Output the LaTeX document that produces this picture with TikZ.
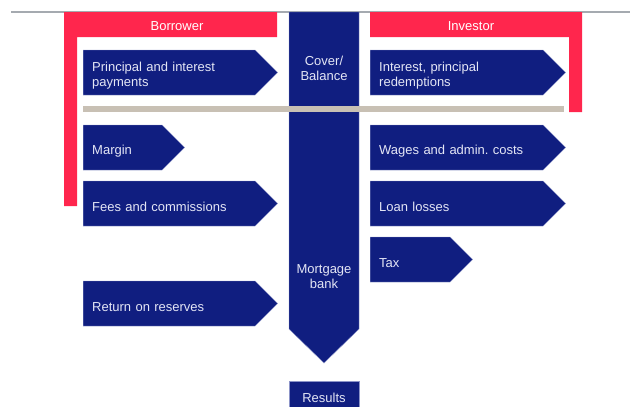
\documentclass[tikz,border=0pt]{standalone}
\usepackage{fontspec}
\setmainfont{Liberation Sans}
\usetikzlibrary{shapes.symbols}
\definecolor{bankblue}{RGB}{16,30,128}
\definecolor{bankedge}{RGB}{140,148,200}
\definecolor{partyred}{RGB}{255,38,77}
\definecolor{splitbeige}{RGB}{200,192,180}
\definecolor{rulegray}{RGB}{165,170,176}
\definecolor{flowtext}{RGB}{228,230,245}
\tikzset{
    flow/.style={signal, signal to=east, signal pointer angle=90, fill=bankblue,
        draw=bankedge, line width=0.4pt, text=flowtext, align=left,
        font=\fontsize{13}{15}\selectfont, minimum height=45pt,
        inner xsep=9pt, inner ysep=0pt, anchor=west,
        execute at begin node={\rule{0pt}{16pt}}},
    coltext/.style={text=flowtext, align=center, font=\fontsize{13}{15}\selectfont},
    party/.style={text=white, font=\fontsize{13}{15}\selectfont}
}
\begin{document}
\begin{tikzpicture}[x=1pt, y=-1pt]
    \useasboundingbox (0,0) rectangle (630,407);

    % Rule and parties
    \draw[rulegray, line width=1.3pt] (11,12) -- (630,12);
    \fill[partyred] (64,12) -- (277,12) -- (277,37) -- (77,37) -- (77,206) -- (64,206) -- cycle;
    \fill[partyred] (370,12) -- (582,12) -- (582,112) -- (569,112) -- (569,37) -- (370,37) -- cycle;
    \node[party] (borrower) at (177,26.5) {Borrower};
    \node[party] (investor) at (471,26.5) {Investor};

    % Mortgage bank column
    \filldraw[fill=bankblue, draw=bankedge, line width=0.4pt]
        (289,12) -- (359,12) -- (359,329) -- (324,363) -- (289,329) -- cycle;
    \fill[splitbeige] (83,106) rectangle (564,112);
    \node[coltext] (cover) at (324,68.5) {Cover/\\Balance};
    \node[coltext] (bank) at (324,276.5) {Mortgage\\bank};
    \node[fill=bankblue, draw=bankedge, line width=0.4pt, text=flowtext,
        font=\fontsize{13}{15}\selectfont, minimum width=70pt, minimum height=34pt,
        anchor=north] (results) at (324,381) {Results};

    % Left flows
    \node[flow, text width=154pt] (payments) at (83,72.5) {Principal and interest\\payments};
    \node[flow, text width=61pt] (margin) at (83,147.5) {Margin};
    \node[flow, text width=154pt] (fees) at (83,203.5) {Fees and commissions};
    \node[flow, text width=154pt] (reserves) at (83,303.5) {Return on reserves};

    % Right flows
    \node[flow, text width=155pt] (redemptions) at (370,72.5) {Interest, principal\\redemptions};
    \node[flow, text width=155pt] (wages) at (370,147.5) {Wages and admin.\ costs};
    \node[flow, text width=155pt] (losses) at (370,203.5) {Loan losses};
    \node[flow, text width=62pt] (tax) at (370,259.5) {Tax};
\end{tikzpicture}
\end{document}
